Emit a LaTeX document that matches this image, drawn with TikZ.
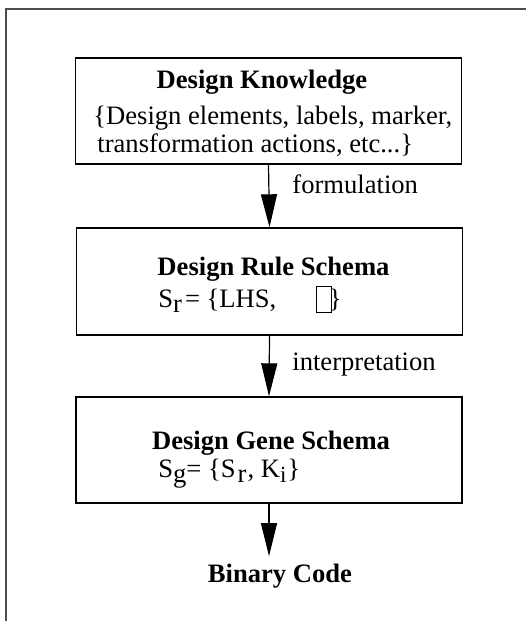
\documentclass[tikz,border=0pt]{standalone}
\usepackage{fontspec}
\setmainfont{Liberation Serif}
\usetikzlibrary{arrows.meta}
\newcommand\lowsub[1]{\raisebox{-2.6pt}{#1}}
\newcommand\smallsub[1]{\raisebox{-2.6pt}{\fontsize{11.5}{11.5}\selectfont #1}}
\newcommand\oddglyph{\raisebox{-2.5pt}{\setlength\fboxsep{0pt}\setlength\fboxrule{0.5pt}\fbox{\rule{0pt}{12.5pt}\hspace{7pt}}}\kern-1.8pt\}}
\begin{document}
\begin{tikzpicture}[x=0.5pt,y=-0.5pt,
  box/.style={draw, line width=0.7pt, minimum width=193pt, minimum height=53pt, inner sep=0pt},
  txt/.style={font=\fontsize{13.3}{15}\selectfont, inner sep=0pt, anchor=base},
  txtl/.style={txt, anchor=base west},
  bold/.style={txt, font=\fontsize{13.3}{15}\selectfont\bfseries},
  flow/.style={line width=0.6pt, -{Triangle[length=16.5pt,width=8pt]}},
  frame/.style={draw=black!70, line width=1pt}
]
\useasboundingbox (0,0) rectangle (526,621);
\draw[frame] (6,621) -- (6,9) -- (526,9);

% boxes
\node[box] (b1) at (268.5,111) {};
\node[box, minimum height=53.5pt] (b2) at (269.5,281.5) {};
\node[box] (b3) at (269,450) {};

% box 1 text
\node[bold] (t1) at (262,88) {Design Knowledge};
\node[txtl] (t1a) at (93,124) {\{Design elements, labels, marker,};
\node[txtl] (t1b) at (97,152) {transformation actions, etc...\}};

% box 2 text
\node[bold] (t2) at (273.5,275) {Design Rule Schema};
\node[txtl] (t2a) at (158,307) {S\lowsub{r}\kern1.5pt= \{LHS,\hspace{20pt}\oddglyph};

% box 3 text
\node[bold] (t3) at (271,449) {Design Gene Schema};
\node[txtl] (t3a) at (158,477) {S\lowsub{g}= \{S\kern1pt\lowsub{r}\kern0.5pt, K\smallsub{i}\kern0.5pt\}};

% output
\node[bold, inner ysep=3.5pt] (bin) at (280,582) {Binary Code};

% connectors
\draw[flow] (b1.south) -- (b2.north);
\draw[flow] (b2.south) -- (b3.north);
\draw[flow] (b3.south) -- (b3.south |- bin.north);

% labels
\node[txtl] (l1) at (292,193) {formulation};
\node[txtl] (l2) at (292,370) {interpretation};
\end{tikzpicture}
\end{document}
